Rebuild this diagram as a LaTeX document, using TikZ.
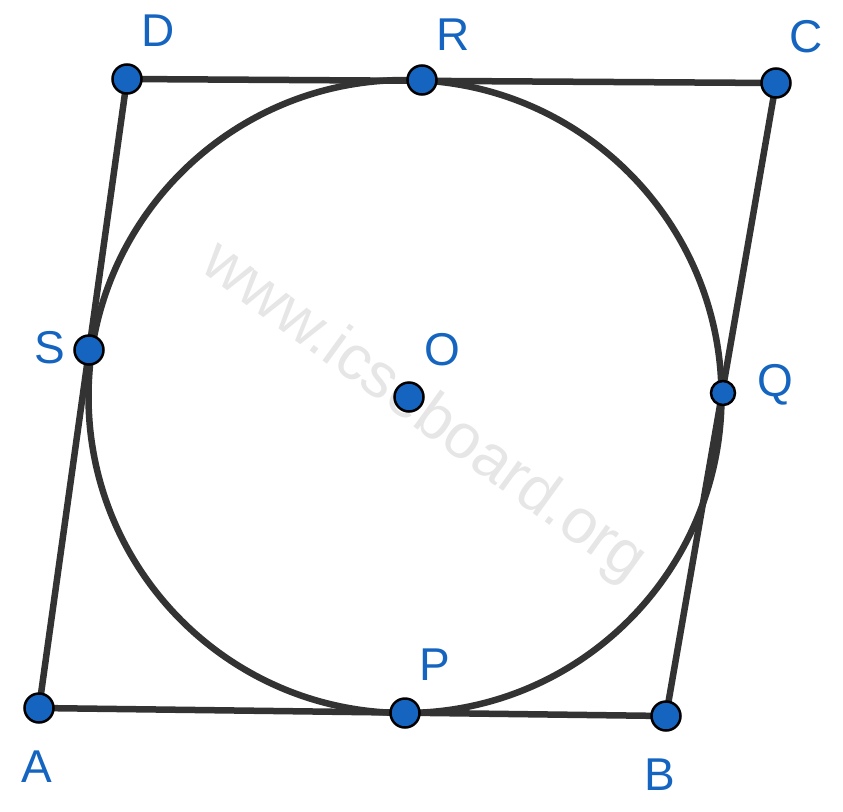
\documentclass[tikz,border=0pt]{standalone}
\usepackage{fontspec}
\setmainfont{Liberation Sans}
\definecolor{ptblue}{HTML}{1565C0}
\definecolor{linegray}{HTML}{333333}
\definecolor{wmgray}{HTML}{E6E6E6}
\begin{document}
\begin{tikzpicture}[x=1pt,y=-1pt,
  seg/.style={draw=linegray,line width=6.5pt,line cap=round,line join=round},
  dot/.style={circle,fill=ptblue,draw=black,line width=2.5pt,inner sep=0pt,minimum size=29pt},
  smalldot/.style={dot,minimum size=24pt},
  lbl/.style={text=ptblue,font=\fontsize{46}{50}\selectfont,inner sep=0pt},
  wm/.style={text=wmgray,font=\fontsize{63}{66}\selectfont,inner sep=0pt}]
\useasboundingbox (0,0) rectangle (843,811);
% watermark
\node[wm,rotate=-36] (wmark) at (423,413) {www.icseboard.org};
% points
\coordinate (pA) at (39,708);
\coordinate (pB) at (666,716);
\coordinate (pC) at (776,83);
\coordinate (pD) at (127,79);
\coordinate (pR) at (422,80);
\coordinate (pS) at (89,350);
\coordinate (pQ) at (723,393);
\coordinate (pP) at (405,713);
\coordinate (pO) at (409,397);
\coordinate (cc) at (405,396.5);
% circle
\draw[seg] (cc) circle[radius=316.5];
% quadrilateral
\draw[seg] (pA) -- (pB) -- (pC) -- (pD) -- cycle;
% dots
\node[dot] (A) at (pA) {};
\node[dot] (B) at (pB) {};
\node[dot] (C) at (pC) {};
\node[dot] (D) at (pD) {};
\node[dot] (R) at (pR) {};
\node[dot] (S) at (pS) {};
\node[smalldot] (Q) at (pQ) {};
\node[dot] (P) at (pP) {};
\node[dot] (O) at (pO) {};
% labels
\node[lbl] (lD) at (158,31) {D};
\node[lbl] (lR) at (453,35) {R};
\node[lbl] (lC) at (806,37) {C};
\node[lbl] (lS) at (50,348) {S};
\node[lbl] (lO) at (442,350) {O};
\node[lbl] (lQ) at (775,385) {Q};
\node[lbl] (lP) at (435,665) {P};
\node[lbl] (lA) at (37,767) {A};
\node[lbl] (lB) at (660,775) {B};
\end{tikzpicture}
\end{document}
